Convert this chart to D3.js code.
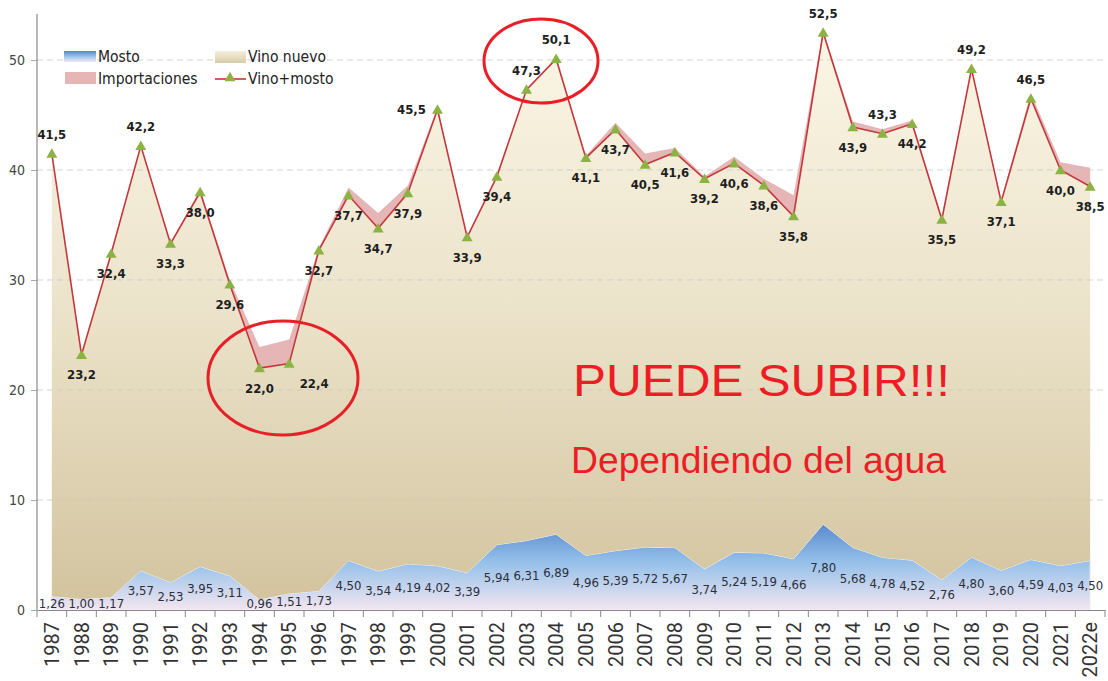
<!DOCTYPE html>
<html>
<head>
<meta charset="utf-8">
<script src="https://cdn.jsdelivr.net/npm/d3@7"></script>
<style>
  html, body { margin: 0; padding: 0; background: #ffffff; }
  svg { display: block; }
</style>
</head>
<body>
<div id="chart"></div>
<script>
// chart values
const years = ["1987","1988","1989","1990","1991","1992","1993","1994","1995","1996",
  "1997","1998","1999","2000","2001","2002","2003","2004","2005","2006","2007","2008",
  "2009","2010","2011","2012","2013","2014","2015","2016","2017","2018","2019","2020",
  "2021","2022e"];
const vinoMosto = [41.5,23.2,32.4,42.2,33.3,38.0,29.6,22.0,22.4,32.7,37.7,34.7,37.9,45.5,
  33.9,39.4,47.3,50.1,41.1,43.7,40.5,41.6,39.2,40.6,38.6,35.8,52.5,43.9,43.3,44.2,35.5,
  49.2,37.1,46.5,40.0,38.5];
const mosto = [1.26,1.00,1.17,3.57,2.53,3.95,3.11,0.96,1.51,1.73,4.50,3.54,4.19,4.02,3.39,
  5.94,6.31,6.89,4.96,5.39,5.72,5.67,3.74,5.24,5.19,4.66,7.80,5.68,4.78,4.52,2.76,4.80,
  3.60,4.59,4.03,4.50];
const importaciones = [0,0,0.1,0,0,0.2,0.4,1.9,2.2,0.2,0.7,1.4,0.7,0.2,0,0,0,0,0.2,0.6,
  1.0,0.4,0.2,0.6,0.6,1.9,0.2,0.5,0.4,0.3,0.2,0.1,0.2,0.5,0.7,1.7];
// label above (-1) or below (1) the marker, 2 = right side, 3 = left side
const labelSide = [-1,1,1,-1,1,1,1,1,2,1,1,1,1,3,1,1,-1,-1,1,1,1,1,1,1,1,1,-1,1,-1,1,1,
  -1,1,-1,1,1];
const yTicks = [0,10,20,30,40,50];

const width = 1108, height = 681;
const plotLeft = 37, plotRight = 1105, plotTop = 14, plotBottom = 610;

const rows = years.map((yr, i) => ({
  year: yr,
  mosto: mosto[i],
  vinoNuevo: vinoMosto[i] - mosto[i],
  importaciones: importaciones[i],
  total: vinoMosto[i],
  side: labelSide[i]
}));

const svg = d3.select("#chart").append("svg")
  .attr("width", width)
  .attr("height", height);

const x = d3.scaleBand().domain(years).range([plotLeft, plotRight]);
const cx = d => x(d) + x.bandwidth() / 2;
const y = d3.scaleLinear().domain([0, 50]).range([plotBottom, plotBottom - 550]);

const defs = svg.append("defs");
const gBeige = defs.append("linearGradient").attr("id", "beige")
  .attr("gradientUnits", "userSpaceOnUse")
  .attr("x1", 0).attr("x2", 0).attr("y1", y(53)).attr("y2", y(0));
gBeige.append("stop").attr("offset", "0").attr("stop-color", "#fbf6e6");
gBeige.append("stop").attr("offset", "0.5").attr("stop-color", "#ebe2c9");
gBeige.append("stop").attr("offset", "1").attr("stop-color", "#d2c39d");

const gBlue = defs.append("linearGradient").attr("id", "blue")
  .attr("gradientUnits", "userSpaceOnUse")
  .attr("x1", 0).attr("x2", 0).attr("y1", y(8)).attr("y2", y(0));
gBlue.append("stop").attr("offset", "0").attr("stop-color", "#5687cc");
gBlue.append("stop").attr("offset", "0.45").attr("stop-color", "#94c0ea");
gBlue.append("stop").attr("offset", "1").attr("stop-color", "#f3e6f0");

const gLegBlue = defs.append("linearGradient").attr("id", "legblue")
  .attr("x1", 0).attr("x2", 0).attr("y1", 0).attr("y2", 1);
gLegBlue.append("stop").attr("offset", "0").attr("stop-color", "#5687cc");
gLegBlue.append("stop").attr("offset", "0.6").attr("stop-color", "#a8cdee");
gLegBlue.append("stop").attr("offset", "1").attr("stop-color", "#f3e6f0");

const gLegBeige = defs.append("linearGradient").attr("id", "legbeige")
  .attr("x1", 0).attr("x2", 0).attr("y1", 0).attr("y2", 1);
gLegBeige.append("stop").attr("offset", "0").attr("stop-color", "#f6efdc");
gLegBeige.append("stop").attr("offset", "1").attr("stop-color", "#d8cba8");

// stacked areas
const stack = d3.stack().keys(["mosto", "vinoNuevo", "importaciones"]);
const series = stack(rows);
const fills = { mosto: "url(#blue)", vinoNuevo: "url(#beige)", importaciones: "#e6b6b7" };

const area = d3.area()
  .x(d => cx(d.data.year))
  .y0(d => y(d[0]))
  .y1(d => y(d[1]));

svg.append("g").selectAll("path")
  .data(series)
  .join("path")
  .attr("d", area)
  .attr("fill", d => fills[d.key])
  .attr("stroke", d => d.key === "mosto" ? "#f4f0f4" : "none")
  .attr("stroke-width", 1);

// gridlines
svg.append("g").selectAll("line")
  .data(yTicks.filter(t => t > 0))
  .join("line")
  .attr("x1", plotLeft).attr("x2", plotRight)
  .attr("y1", d => y(d)).attr("y2", d => y(d))
  .attr("stroke", "#c9c9c9")
  .attr("stroke-opacity", 0.8)
  .attr("stroke-dasharray", "6,4");

// y axis
const yAxis = svg.append("g")
  .attr("transform", `translate(${plotLeft},0)`)
  .call(d3.axisLeft(y).tickValues(yTicks).tickSize(6).tickFormat(d3.format("d")));
yAxis.select(".domain").remove();
yAxis.selectAll(".tick line").attr("stroke", "#aaa");
yAxis.selectAll("text")
  .attr("fill", "#444")
  .attr("x", -12)
  .style("font-family", "'DejaVu Sans Condensed', 'DejaVu Sans', sans-serif")
  .style("font-size", "14px");
svg.append("line")
  .attr("x1", plotLeft).attr("x2", plotLeft)
  .attr("y1", plotTop).attr("y2", plotBottom)
  .attr("stroke", "#888").attr("stroke-width", 1.2);

// x axis
const xAxis = svg.append("g")
  .attr("transform", `translate(0,${plotBottom})`)
  .call(d3.axisBottom(x).tickSize(0));
xAxis.select(".domain").attr("stroke", "#888").attr("stroke-width", 1.2);
xAxis.selectAll("text")
  .attr("transform", "rotate(-90)")
  .attr("text-anchor", "end")
  .attr("x", -12)
  .attr("y", 0)
  .attr("dy", "0.36em")
  .attr("fill", "#333")
  .style("font-family", "Roboto, 'Liberation Sans', sans-serif")
  .style("font-size", "20px");
// boundary ticks between years
svg.append("g").selectAll("line")
  .data(years.concat(["end"]))
  .join("line")
  .attr("x1", (d, i) => plotLeft + i * x.step())
  .attr("x2", (d, i) => plotLeft + i * x.step())
  .attr("y1", plotBottom).attr("y2", plotBottom + 7)
  .attr("stroke", "#888");

// vino+mosto line
const line = d3.line()
  .x(d => cx(d.year))
  .y(d => y(d.total));
svg.append("path")
  .datum(rows)
  .attr("d", line)
  .attr("fill", "none")
  .attr("stroke", "#c4383c")
  .attr("stroke-width", 1.6);

const tri = d3.symbol().type(d3.symbolTriangle).size(52);
svg.append("g").selectAll("path")
  .data(rows)
  .join("path")
  .attr("d", tri)
  .attr("transform", d => `translate(${cx(d.year)},${y(d.total) + 1})`)
  .attr("fill", "#8db244");

const fmt = v => d3.format(".1f")(v).replace(".", ",");
const fmt2 = v => d3.format(".2f")(v).replace(".", ",");

// total labels
svg.append("g").selectAll("text")
  .data(rows)
  .join("text")
  .attr("x", d => cx(d.year) + (d.side === 2 ? 25 : d.side === 3 ? -26 : 0))
  .attr("y", d => y(d.total) + (d.side === -1 ? -19 : d.side === 3 ? 0 : 20))
  .attr("dy", "0.35em")
  .attr("text-anchor", "middle")
  .attr("fill", "#1e1e1e")
  .style("font-family", "'DejaVu Sans Condensed', 'DejaVu Sans', sans-serif")
  .style("font-weight", "bold")
  .style("font-size", "13px")
  .text(d => fmt(d.total));

// mosto labels
svg.append("g").selectAll("text")
  .data(rows)
  .join("text")
  .attr("x", d => cx(d.year))
  .attr("y", d => Math.min(y(d.mosto / 2), plotBottom - 7))
  .attr("dy", "0.35em")
  .attr("text-anchor", "middle")
  .attr("fill", "#2a2f3a")
  .style("font-family", "'DejaVu Sans Condensed', 'DejaVu Sans', sans-serif")
  .style("font-size", "13px")
  .text(d => fmt2(d.mosto));

// legend
const legFont = "'DejaVu Sans Condensed', 'DejaVu Sans', sans-serif";
const leg = svg.append("g").style("font-family", legFont).style("font-size", "15.5px").attr("fill", "#222");
leg.append("rect").attr("x", 64).attr("y", 51).attr("width", 32).attr("height", 11).attr("fill", "url(#legblue)");
leg.append("text").attr("x", 98).attr("y", 57).attr("dy", "0.35em").text("Mosto");
leg.append("rect").attr("x", 65).attr("y", 72).attr("width", 31).attr("height", 12).attr("fill", "#e6b6b7");
leg.append("text").attr("x", 98).attr("y", 79).attr("dy", "0.35em").text("Importaciones");
leg.append("rect").attr("x", 215).attr("y", 51).attr("width", 31).attr("height", 12).attr("fill", "url(#legbeige)");
leg.append("text").attr("x", 248).attr("y", 57).attr("dy", "0.35em").text("Vino nuevo");
leg.append("line").attr("x1", 215).attr("x2", 246).attr("y1", 79).attr("y2", 79).attr("stroke", "#c4383c").attr("stroke-width", 1.6);
leg.append("path").attr("d", tri).attr("transform", "translate(230,78)").attr("fill", "#8db244");
leg.append("text").attr("x", 248).attr("y", 79).attr("dy", "0.35em").text("Vino+mosto");

// annotations
svg.append("ellipse")
  .attr("cx", 541).attr("cy", 61).attr("rx", 57).attr("ry", 42)
  .attr("fill", "none").attr("stroke", "#e81f27").attr("stroke-width", 3);
svg.append("ellipse")
  .attr("cx", 283).attr("cy", 378).attr("rx", 75).attr("ry", 57)
  .attr("fill", "none").attr("stroke", "#e81f27").attr("stroke-width", 3);

svg.append("text")
  .attr("x", 573).attr("y", 396)
  .attr("fill", "#ee1c25")
  .attr("textLength", 377)
  .attr("lengthAdjust", "spacingAndGlyphs")
  .style("font-family", "'Liberation Sans', Arial, sans-serif")
  .style("font-size", "45px")
  .text("PUEDE SUBIR!!!");
svg.append("text")
  .attr("x", 571).attr("y", 473)
  .attr("fill", "#ee1c25")
  .attr("textLength", 375)
  .attr("lengthAdjust", "spacingAndGlyphs")
  .style("font-family", "'Liberation Sans', Arial, sans-serif")
  .style("font-size", "36px")
  .text("Dependiendo del agua");
</script>
</body>
</html>
